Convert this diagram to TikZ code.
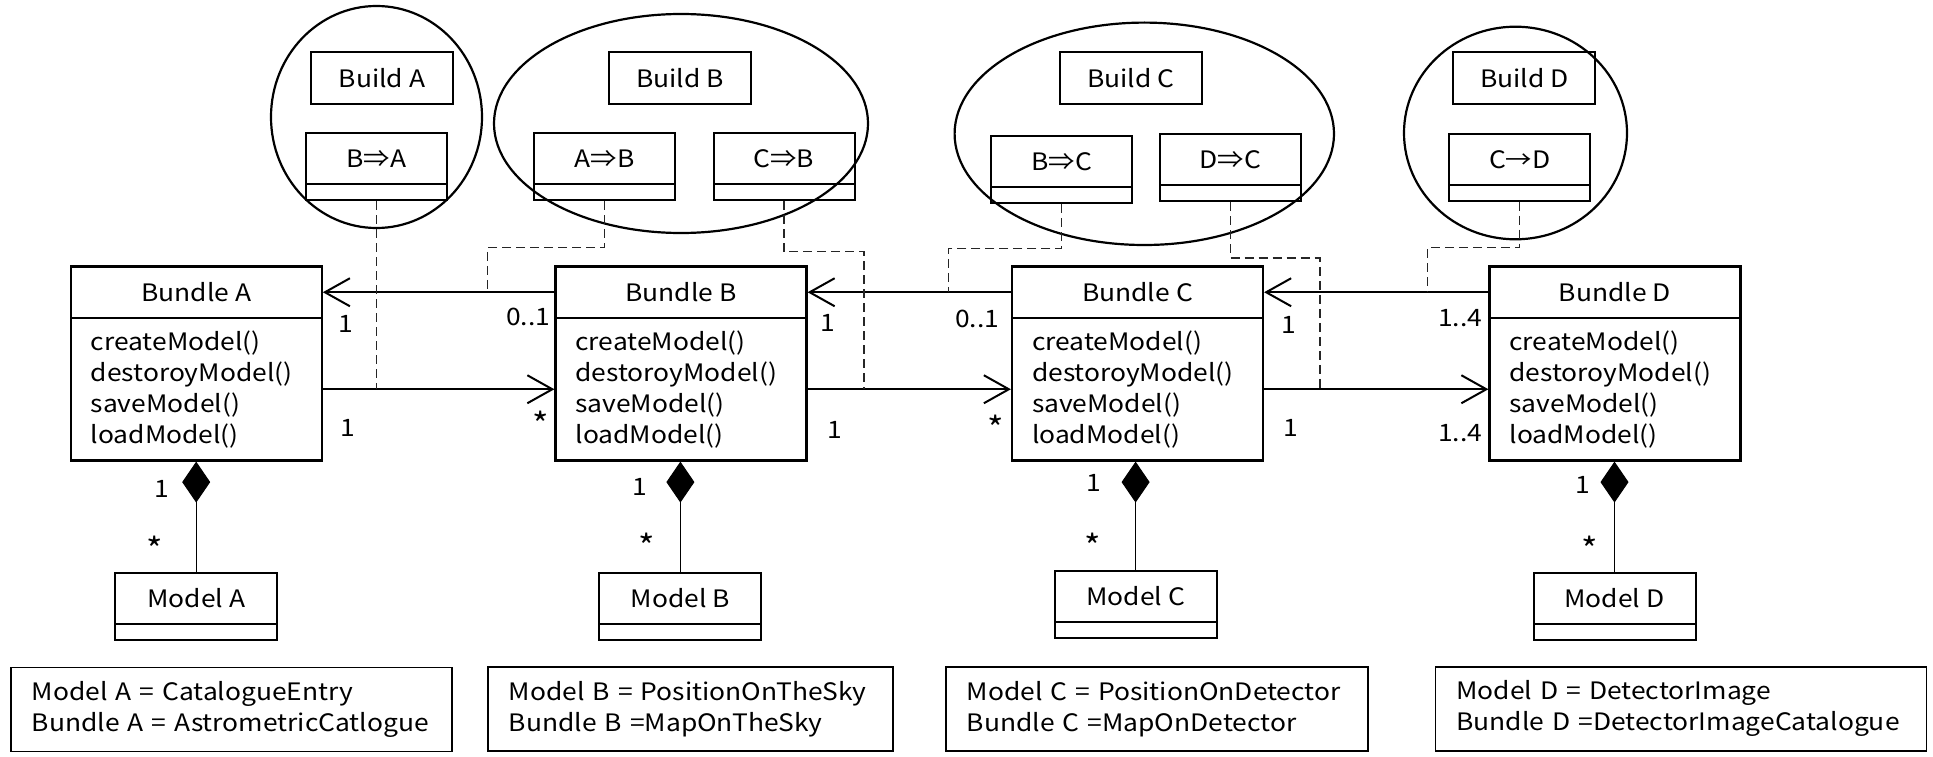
\documentclass[tikz,border=0pt]{standalone}
\usepackage{fontspec}
\setmainfont[FakeStretch=1.1]{Noto Sans CJK JP}
\usetikzlibrary{arrows.meta,shapes.geometric}

\begin{document}
\begin{tikzpicture}[x=1pt,y=-1pt,
  every node/.style={font=\fontsize{24}{31}\selectfont, inner sep=0pt},
  ring/.style={draw, ellipse, line width=2.2pt},
  buildbox/.style={draw, line width=2pt, minimum width=142pt, minimum height=52pt},
  opbox/.style={draw, line width=2pt, minimum width=141pt, minimum height=51pt},
  opfoot/.style={draw, line width=2pt, minimum width=141pt, minimum height=16pt},
  classhead/.style={draw, line width=2.2pt, minimum width=251pt, minimum height=51.5pt},
  classbody/.style={draw, line width=2.2pt, text width=211pt, inner xsep=20pt,
                    minimum height=142.5pt, align=left},
  modelbox/.style={draw, line width=2pt, minimum width=162pt, minimum height=51.6pt},
  modelfoot/.style={draw, line width=2pt, minimum width=162pt, minimum height=16pt},
  legend/.style={draw, line width=1.6pt, anchor=north west, inner xsep=21pt,
                 minimum height=84pt, align=left},
  assoc/.style={line width=2pt, -{Straight Barb[length=25pt,width=28pt]}},
  dep/.style={line width=1.3pt, black!85, dash pattern=on 9pt off 5pt},
  comp/.style={line width=1pt, {Diamond[length=41pt,width=28pt]}-},
  mult/.style={},
  many/.style={font=\fontsize{32}{32}\selectfont}
]
\useasboundingbox (0,0) rectangle (1933,757);

% build groups
\node[ring, minimum width=211pt, minimum height=222pt] (ringA) at (376.5,117) {};
\node[ring, minimum width=374pt, minimum height=219pt] (ringB) at (681,123.5) {};
\node[ring, minimum width=379.4pt, minimum height=222.4pt] (ringC) at (1144.3,133.8) {};
\node[ring, minimum width=223pt, minimum height=212.6pt] (ringD) at (1515.5,133) {};

\node[buildbox] (buildA) at (382,78) {Build A};
\node[buildbox] (buildB) at (680,78) {Build B};
\node[buildbox] (buildC) at (1130.8,78.5) {Build C};
\node[buildbox] (buildD) at (1524.3,77.9) {Build D};

% conversion operations
\node[opbox]  (opBA)  at (376.5,158.5) {B⇒A};
\node[opfoot] (opBAf) at (376.5,192) {};
\node[opbox]  (opAB)  at (604.5,158.5) {A⇒B};
\node[opfoot] (opABf) at (604.5,192) {};
\node[opbox]  (opCB)  at (784,158.5) {C⇒B};
\node[opfoot] (opCBf) at (784,192) {};
\node[opbox]  (opBC)  at (1061.7,161.85) {B⇒C};
\node[opfoot] (opBCf) at (1061.7,195.2) {};
\node[opbox]  (opDC)  at (1230.4,159.85) {D⇒C};
\node[opfoot] (opDCf) at (1230.4,193.35) {};
\node[opbox]  (opCD)  at (1519.7,159.5) {C→D};
\node[opfoot] (opCDf) at (1519.7,192.5) {};

% bundles
\foreach \n/\x in {A/196.25, B/681, C/1137.5, D/1615}{
  \node[classhead] (bundle\n) at (\x,292.25) {Bundle \n};
  \node[classbody] (body\n) at (\x,389.25)
    {createModel()\\destoroyModel()\\saveModel()\\loadModel()};
}

% models
\node[modelbox]  (modelA)  at (196.2,598.5) {Model A};
\node[modelfoot] (modelAf) at (196.2,632.3) {};
\node[modelbox]  (modelB)  at (680.4,598.5) {Model B};
\node[modelfoot] (modelBf) at (680.4,632.3) {};
\node[modelbox]  (modelC)  at (1135.6,596.5) {Model C};
\node[modelfoot] (modelCf) at (1135.6,630.3) {};
\node[modelbox]  (modelD)  at (1614.5,598.5) {Model D};
\node[modelfoot] (modelDf) at (1614.5,632.3) {};

% associations between bundles
\draw[assoc] (bundleB.west) -- (bundleA.east);
\draw[assoc] (bodyA.east) -- (bodyB.west);
\draw[assoc] (bundleC.west) -- (bundleB.east);
\draw[assoc] (bodyB.east) -- (bodyC.west);
\draw[assoc] (bundleD.west) -- (bundleC.east);
\draw[assoc] (bodyC.east) -- (bodyD.west);

% multiplicities
\node[mult] (mAB1) at (345.6,324) {1};
\node[mult] (mAB2) at (528,316.7) {0..1};
\node[mult] (mAB3) at (347.5,428.3) {1};
\node[many] (mAB4) at (540.7,424) {*};
\node[mult] (mBC1) at (828,323.3) {1};
\node[mult] (mBC2) at (977,319.3) {0..1};
\node[mult] (mBC3) at (834.6,430) {1};
\node[many] (mBC4) at (996,428) {*};
\node[mult] (mCD1) at (1289,325) {1};
\node[mult] (mCD2) at (1460,318.3) {1..4};
\node[mult] (mCD3) at (1290.7,428.3) {1};
\node[mult] (mCD4) at (1460,433.3) {1..4};

% compositions
\foreach \n in {A,B,C,D}{
  \draw[comp] (body\n.south -| model\n.north) -- (model\n.north);
}
\node[mult] (cA1) at (162,489) {1};
\node[many] (cA2) at (155,549) {*};
\node[mult] (cB1) at (640,486.7) {1};
\node[many] (cB2) at (647,546) {*};
\node[mult] (cC1) at (1094,483.3) {1};
\node[many] (cC2) at (1093,546) {*};
\node[mult] (cD1) at (1583,485) {1};
\node[many] (cD2) at (1590,549) {*};

% dependencies of the operations on the associations
\coordinate (jAB) at (487.3,292.25);
\coordinate (jBCu) at (948.3,292.25);
\coordinate (jBCl) at (864,389.25);
\coordinate (jCDu) at (1427.6,292.25);
\coordinate (jCDl) at (1320,389.25);
\draw[dep] (opBAf.south) -- (opBAf.south |- bodyA.east);
\draw[dep] (opABf.south) -- ++(0,46.7) -| (jAB);
\draw[dep] (opCBf.south) -- ++(0,50.7) -| (jBCl);
\draw[dep] (opBCf.south) -- ++(0,44.6) -| (jBCu);
\draw[dep] (opDCf.south) -- ++(0,55.7) -| (jCDl);
\draw[dep] (opCDf.south) -- ++(0,46) -| (jCDu);

% legends
\node[legend, text width=399pt] (legA) at (10,666.7)
  {Model A = CatalogueEntry\\Bundle A = AstrometricCatlogue};
\node[legend, text width=363pt] (legB) at (487,666)
  {Model B = PositionOnTheSky\\Bundle B =MapOnTheSky};
\node[legend, text width=380pt] (legC) at (945,666)
  {Model C = PositionOnDetector\\Bundle C =MapOnDetector};
\node[legend, text width=449pt] (legD) at (1434.7,666)
  {Model D = DetectorImage\\Bundle D =DetectorImageCatalogue};
\end{tikzpicture}
\end{document}
